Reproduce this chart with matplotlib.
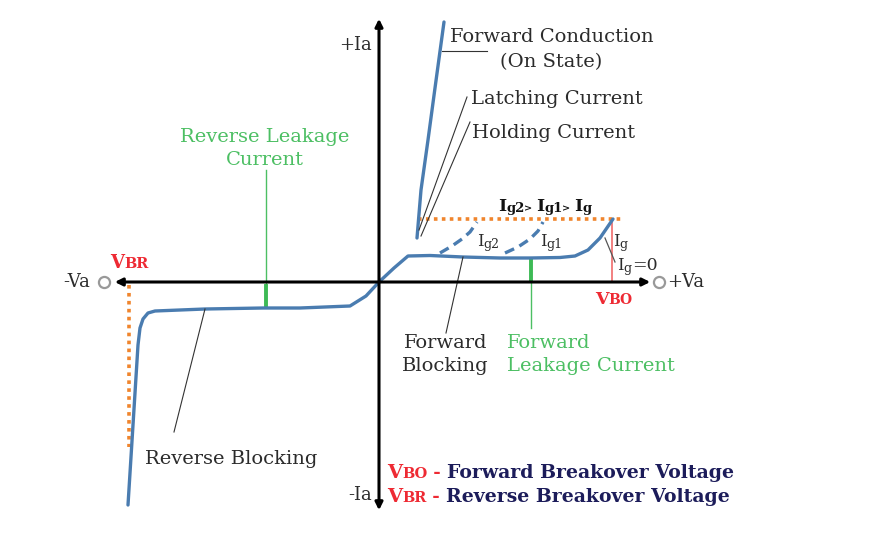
import matplotlib
matplotlib.use('Agg')
import matplotlib.pyplot as plt

# curve points of the SCR V-I sketch (diagram pixel units)
fwd_x = [379, 394, 408, 430, 463, 500, 530, 560, 575, 588, 600, 613]
fwd_y = [282, 268, 256, 255.5, 257, 258, 258, 257.5, 256, 250, 238, 219]
rev_x = [379, 366, 350, 300, 263, 205, 155, 148, 143, 140, 138, 128]
rev_y = [282, 296, 306, 308, 308, 309, 311, 313, 319, 328, 345, 505]
cond_x = [417, 421, 428, 435, 444]
cond_y = [238, 190, 140, 88, 22]
ig2_x = [440, 452, 462, 470, 477]
ig2_y = [253, 246, 239, 232, 222]
ig1_x = [505, 518, 530, 538, 543]
ig1_y = [253, 247, 239, 231, 222]

BLUE = '#4a7cb0'
ORANGE = '#f0852d'
GREEN = '#3dba55'
TGREEN = '#4cbf63'
RED = '#ee2a33'
NAVY = '#1c1c5a'
TXT = '#2b2b2b'
SERIF = 'DejaVu Serif'

fig = plt.figure(figsize=(8.73, 5.36), dpi=100)
ax = fig.add_axes([0, 0, 1, 1])
ax.set_xlim(0, 873)
ax.set_ylim(536, 0)
ax.axis('off')
renderer = fig.canvas.get_renderer()


def rich(x, y, parts, ha='left'):
    # parts: (text, size, color, weight, dy)
    objs = []
    cx = x
    for t, s, c, w, dy in parts:
        o = ax.text(cx, y + dy, t, fontsize=s, color=c, fontweight=w,
                    family=SERIF, va='baseline', ha='left')
        bb = o.get_window_extent(renderer)
        cx += bb.width
        objs.append(o)
    if ha == 'center':
        shift = (cx - x) / 2
        for o in objs:
            px, py = o.get_position()
            o.set_position((px - shift, py))


# axes with arrows
ax.annotate('', xy=(112, 282), xytext=(653, 282),
            arrowprops=dict(arrowstyle='<|-|>', lw=2.2, color='black', mutation_scale=11))
ax.annotate('', xy=(379, 16), xytext=(379, 513),
            arrowprops=dict(arrowstyle='<|-|>', lw=2.2, color='black', mutation_scale=11))
ax.plot([104, 659], [282, 282], 'o', ms=8, mfc='white', mec='#999999', mew=1.6)

# orange dotted lines
ax.plot([418, 623], [219, 219], color=ORANGE, lw=2.6, ls=(0, (1, 1.2)))
ax.plot([129, 129], [285, 447], color=ORANGE, lw=2.6, ls=(0, (1, 1.2)))

# red VBO line
ax.plot([612, 612], [220, 282], color='#f06b6b', lw=1.2)

# green leakage markers
ax.plot([266, 266], [170, 286], color=TGREEN, lw=1)
ax.plot([266, 266], [286, 307], color=GREEN, lw=2.8)
ax.plot([531, 531], [280, 328], color=TGREEN, lw=1)
ax.plot([531, 531], [259, 281], color=GREEN, lw=2.8)

# curves
ax.plot(fwd_x, fwd_y, color=BLUE, lw=2.4, solid_capstyle='round', solid_joinstyle='round')
ax.plot(rev_x, rev_y, color=BLUE, lw=2.4, solid_capstyle='round', solid_joinstyle='round')
ax.plot(cond_x, cond_y, color=BLUE, lw=2.4, solid_capstyle='round')
ax.plot(ig2_x, ig2_y, color=BLUE, lw=2.4, ls=(0, (3, 1.8)))
ax.plot(ig1_x, ig1_y, color=BLUE, lw=2.4, ls=(0, (3, 1.8)))

# leader lines
thin = dict(color='#333333', lw=0.8)
ax.plot([442, 487], [51, 51], **thin)
ax.plot([467, 419], [97, 230], **thin)
ax.plot([470, 421], [122, 236], **thin)
ax.plot([463, 446], [257, 333], **thin)
ax.plot([205, 174], [309, 432], **thin)
ax.plot([605, 615], [238, 262], color='#555555', lw=0.9)

# plain labels
def lbl(x, y, t, c=TXT, ha='left', s=14):
    ax.text(x, y, t, fontsize=s, color=c, family=SERIF, ha=ha, va='center')

lbl(372, 45, '+Ia', ha='right', s=13)
lbl(372, 495, '-Ia', ha='right', s=13)
lbl(90, 282, '-Va', ha='right', s=13)
lbl(667, 282, '+Va', s=13)
lbl(450, 37, 'Forward Conduction')
lbl(500, 62, '(On State)')
lbl(471, 99, 'Latching Current')
lbl(472, 133, 'Holding Current')
lbl(265, 137, 'Reverse Leakage', c=TGREEN, ha='center')
lbl(265, 160, 'Current', c=TGREEN, ha='center')
lbl(446, 343, 'Forward', ha='center')
lbl(445, 366, 'Blocking', ha='center')
lbl(507, 343, 'Forward', c=TGREEN)
lbl(507, 366, 'Leakage Current', c=TGREEN)
lbl(145, 459, 'Reverse Blocking')

# subscripted labels
rich(477, 246, [('I', 12, TXT, 'normal', 0), ('g2', 9, TXT, 'normal', 2)])
rich(540, 246, [('I', 12, TXT, 'normal', 0), ('g1', 9, TXT, 'normal', 2)])
rich(613, 246, [('I', 12, TXT, 'normal', 0), ('g', 9, TXT, 'normal', 2)])
rich(617, 270, [('I', 12, TXT, 'normal', 0), ('g', 9, TXT, 'normal', 2), ('=0', 12.5, TXT, 'normal', 0)])
rich(498, 211, [('I', 12.5, '#111111', 'bold', 0), ('g2', 9.5, '#111111', 'bold', 1), ('> ', 7, '#111111', 'bold', 0),
                ('I', 12.5, '#111111', 'bold', 0), ('g1', 9.5, '#111111', 'bold', 1), ('> ', 7, '#111111', 'bold', 0),
                ('I', 12.5, '#111111', 'bold', 0), ('g', 9.5, '#111111', 'bold', 1)])
rich(110, 268, [('V', 13, RED, 'bold', 0), ('BR', 10.5, RED, 'bold', 0)])
rich(595, 304, [('V', 12.5, RED, 'bold', 0), ('BO', 10, RED, 'bold', 0)])

rich(387, 478, [('V', 14, RED, 'bold', 0), ('BO', 10.5, RED, 'bold', 0), (' - ', 13, RED, 'bold', 0),
                ('Forward Breakover Voltage', 13.6, NAVY, 'bold', 0)])
rich(387, 502, [('V', 14, RED, 'bold', 0), ('BR', 10.5, RED, 'bold', 0), (' - ', 13, RED, 'bold', 0),
                ('Reverse Breakover Voltage', 13.6, NAVY, 'bold', 0)])

fig.savefig('out.png', dpi=100, facecolor='white')
